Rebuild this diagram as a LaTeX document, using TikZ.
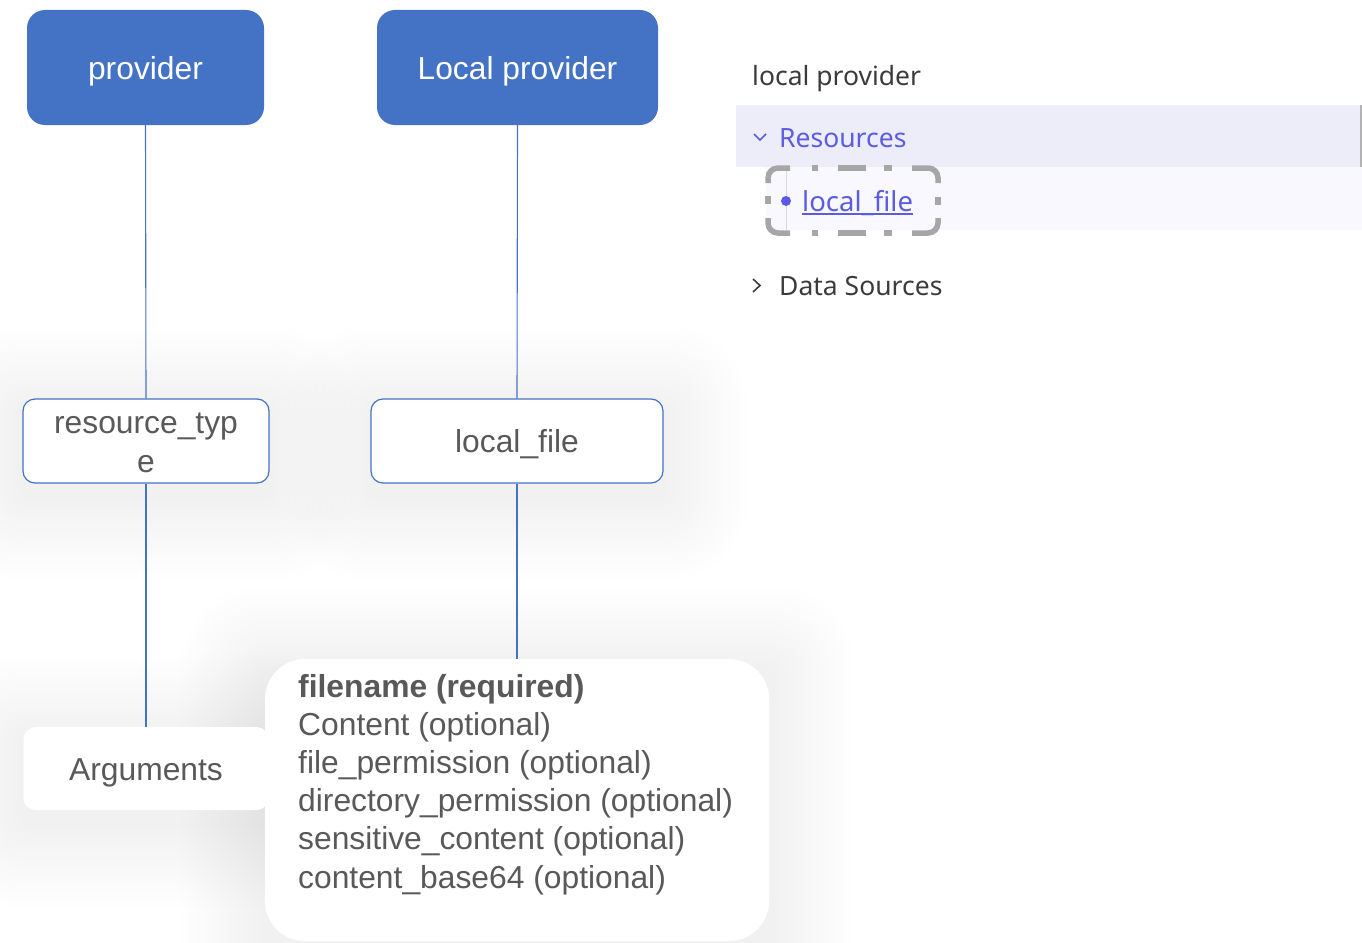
\documentclass[tikz,border=0pt]{standalone}
\usepackage{fontspec}
\setmainfont{Liberation Sans}
\newfontfamily\uifont{Noto Sans}
\definecolor{blueA}{HTML}{4472C4}
\definecolor{txt}{HTML}{595959}
\definecolor{purp}{HTML}{5B5BE3}
\definecolor{band}{HTML}{EDEDF9}
\definecolor{bandlight}{HTML}{F8F8FE}
\definecolor{dashg}{HTML}{A6A6A6}
\definecolor{uitext}{HTML}{3B3B3B}
\newcommand{\softshadow}[4]{%
  \foreach \k in {1,...,14}{%
    \pgfmathsetmacro\rr{8+\k*5}%
    \fill[black,opacity=0.005,rounded corners=\rr pt] (#1-\k*6, #2-\k*6+12) rectangle (#3+\k*6, #4+\k*6+12);}}
\tikzset{
  diag/.style={font=\fontsize{31.8}{39}\selectfont, inner sep=0, align=center, text height=23pt, text depth=0pt},
  topbox/.style={diag, fill=blueA, rounded corners=18, text=white},
  midbox/.style={diag, draw=blueA, line width=1.2, fill=white, rounded corners=12, text=txt},
  softbox/.style={diag, fill=white, rounded corners=12, text=txt},
  link/.style={draw=blueA, line width=1.1},
  ui/.style={font=\uifont\fontsize{26.5}{30}\selectfont, inner sep=0, anchor=base west},
  dashbox/.style={draw=dashg, line width=5.5, rounded corners=10},
}
\begin{document}
\begin{tikzpicture}[x=1pt,y=-1pt]
\useasboundingbox (0,0) rectangle (1362,942);
\clip (0,0) rectangle (1362,942);
% soft shadows
\softshadow{23}{399}{269}{483}
\softshadow{371}{399}{663}{483}
\softshadow{23}{727}{268}{810}
\softshadow{265}{659}{769}{941}
% diagram nodes
\node[topbox, minimum width=237, minimum height=115] (prov) at (145.5,67.5) {provider};
\node[topbox, minimum width=281, minimum height=115] (lprov) at (517.5,67.5) {Local provider};
\node[midbox, minimum width=246, minimum height=84, text height=63pt] (rtype) at (146,441) {resource\_typ\\e};
\node[midbox, minimum width=292, minimum height=84] (lfile) at (517,441) {local\_file};
\node[softbox, minimum width=245, minimum height=83] (argsbox) at (146,768.5) {Arguments};
\node[softbox, rounded corners=40, minimum width=504, minimum height=282] (big) at (517,800) {};
\node[font=\fontsize{31.8}{38.2}\selectfont, text=txt, align=left, inner sep=0, anchor=base west] (argtext) at (298,888)
  {\textbf{filename (required)}\\Content (optional)\\file\_permission (optional)\\directory\_permission (optional)\\sensitive\_content (optional)\\content\_base64 (optional)};
% connectors
\draw[link] (prov.south) -- (rtype.north);
\draw[link] (rtype.south) -- (argsbox.north);
\draw[link] (lprov.south) -- (lfile.north);
\draw[link] (lfile.south) -- (big.north);
% right panel
\fill[band] (736,105) rectangle (1362,167);
\draw[gray!60, line width=1.5] (1361,105) -- (1361,167);
\fill[bandlight] (766,167) rectangle (1362,230);
\draw[gray!30, line width=1] (786,170) -- (786,230);
\node[ui, text=uitext] (ptitle) at (752,85) {local provider};
\node[ui, text=purp] (resources) at (779,147) {Resources};
\draw[purp, line width=1.6] (754,134) -- (760,140) -- (766,134);
\fill[purp] (786,201) circle (5pt);
\node[ui, text=purp, font=\uifont\fontsize{27.5}{30}\selectfont] (lfui) at (802,211) {local\_file};
\draw[purp, line width=1.4] ([yshift=-3pt]lfui.base west) -- ([yshift=-3pt]lfui.base east);
\node[ui, text=uitext] (dsrc) at (779,295) {Data Sources};
\draw[uitext, line width=1.6] (753,279) -- (760,285.5) -- (753,292);
% dashed focus box
\draw[dashbox] (768,183) |- (790,168);
\draw[dashbox] (912,168) -| (938,183);
\draw[dashbox] (768,218) |- (790,233);
\draw[dashbox] (912,233) -| (938,218);
\draw[dashbox] (812,168) -- (818,168);
\draw[dashbox] (838,168) -- (866,168);
\draw[dashbox] (884,168) -- (892,168);
\draw[dashbox] (812,233) -- (818,233);
\draw[dashbox] (838,233) -- (866,233);
\draw[dashbox] (884,233) -- (892,233);
\draw[dashbox] (768,196) -- (768,204);
\draw[dashbox] (938,197) -- (938,205);
\end{tikzpicture}
\end{document}
